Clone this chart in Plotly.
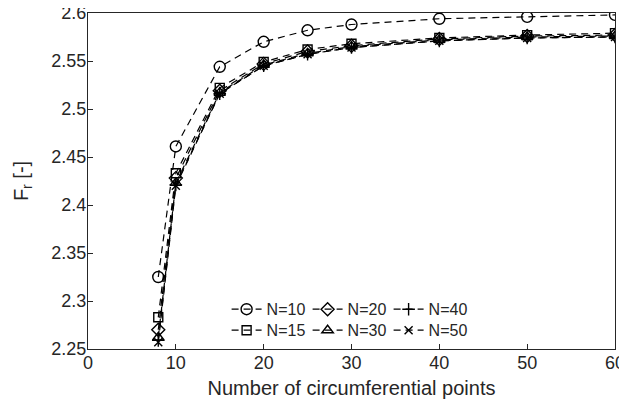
import plotly.graph_objects as go

x_points = [8, 10, 15, 20, 25, 30, 40, 50, 60]
fr_N10 = [2.325, 2.461, 2.544, 2.570, 2.582, 2.588, 2.594, 2.596, 2.598]
fr_N15 = [2.283, 2.433, 2.522, 2.549, 2.562, 2.568, 2.574, 2.577, 2.579]
fr_N20 = [2.270, 2.428, 2.519, 2.547, 2.560, 2.566, 2.573, 2.576, 2.577]
fr_N30 = [2.262, 2.423, 2.517, 2.546, 2.558, 2.565, 2.572, 2.575, 2.576]
fr_N40 = [2.259, 2.421, 2.516, 2.545, 2.557, 2.564, 2.571, 2.574, 2.575]
fr_N50 = [2.257, 2.420, 2.516, 2.545, 2.557, 2.564, 2.571, 2.574, 2.575]
y_ticks = [2.25, 2.3, 2.35, 2.4, 2.45, 2.5, 2.55, 2.6]
y_tick_labels = ["2.25", "2.3", "2.35", "2.4", "2.45", "2.5", "2.55", "2.6"]
x_ticks = [0, 10, 20, 30, 40, 50, 60]

data = {"N=10": fr_N10, "N=15": fr_N15, "N=20": fr_N20,
        "N=30": fr_N30, "N=40": fr_N40, "N=50": fr_N50}
symbols = {"N=10": "circle-open", "N=15": "square-open", "N=20": "diamond-open",
           "N=30": "triangle-up-open", "N=40": "cross-thin-open", "N=50": "x-thin-open"}
sizes = {"N=10": 11, "N=15": 9, "N=20": 10, "N=30": 10, "N=40": 9, "N=50": 8}
legend_of = {"N=10": "legend", "N=20": "legend", "N=40": "legend",
             "N=15": "legend2", "N=30": "legend2", "N=50": "legend2"}

FONT = "Liberation Sans, Arial, sans-serif"

fig = go.Figure()
order = ["N=10", "N=20", "N=40", "N=15", "N=30", "N=50"]
for name in order:
    fig.add_trace(go.Scatter(
        x=x_points, y=data[name], name=name, mode="lines+markers",
        line=dict(color="black", width=1.2, dash="7px,5px"),
        marker=dict(symbol=symbols[name], size=sizes[name], color="black",
                    line=dict(color="black", width=1.4)),
        legend=legend_of[name],
    ))

axis_common = dict(showgrid=False, zeroline=False, showline=True, mirror=True,
                   linecolor="#262626", linewidth=1, ticks="inside", ticklen=5,
                   tickcolor="#262626", automargin=False, ticklabeloverflow="allow",
                   ticklabelstandoff=-3,
                   tickfont=dict(family=FONT, size=18, color="#262626"))
legend_common = dict(orientation="h", x=0.263, xanchor="left", yanchor="bottom",
                     bgcolor="rgba(0,0,0,0)",
                     font=dict(family=FONT, size=16, color="#262626"),
                     entrywidth=36, itemwidth=30)
fig.update_layout(
    width=619, height=403,
    margin=dict(l=80, r=12, t=5, b=62, autoexpand=False),
    paper_bgcolor="white", plot_bgcolor="white",
    font=dict(family=FONT, size=18, color="#262626"),
    xaxis=dict(range=[0, 60], tickvals=x_ticks,
               title=dict(text="Number of circumferential points", standoff=9,
                          font=dict(family=FONT, size=20)),
               **axis_common),
    yaxis=dict(range=[2.25, 2.6], tickvals=y_ticks, ticktext=y_tick_labels,
               title=dict(text="F<sub>r</sub> [-]", standoff=17,
                          font=dict(family=FONT, size=20)),
               **axis_common),
    legend=dict(y=0.0675, **legend_common),
    legend2=dict(y=0.005, **legend_common),
    showlegend=True,
)
fig.write_html("out.html")
